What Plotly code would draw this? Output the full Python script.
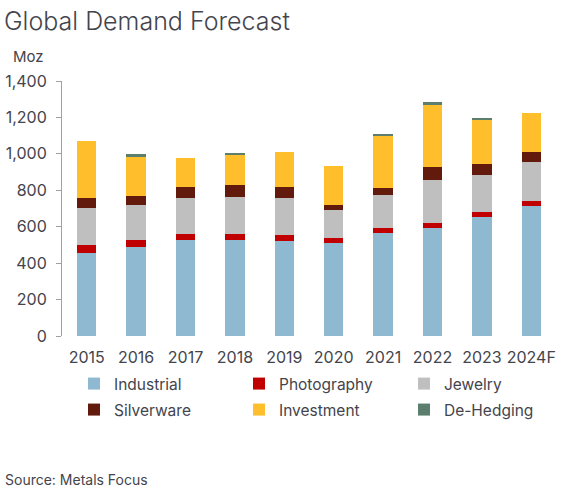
import plotly.graph_objects as go

years = ["2015", "2016", "2017", "2018", "2019", "2020", "2021", "2022", "2023", "2024F"]
industrial = [458, 491, 526, 526, 522, 509, 564, 592, 656, 714]
photography = [40, 35, 34, 33, 33, 30, 28, 27, 27, 26]
jewelry = [204, 192, 200, 205, 205, 154, 183, 235, 203, 213]
silverware = [58, 51, 57, 64, 59, 28, 38, 73, 57, 58]
investment = [312, 215, 159, 167, 190, 211, 288, 341, 247, 213]
dehedging = [0, 13, 0, 9, 0, 0, 3, 14, 9, 0]

series_names = ["Industrial", "Photography", "Jewelry", "Silverware", "Investment", "De-Hedging"]
series_values = [industrial, photography, jewelry, silverware, investment, dehedging]
series_colors = ["#8FB9D1", "#C00000", "#BFBFBF", "#611A0C", "#FFBE2B", "#5B7E6D"]
y_ticks = [0, 200, 400, 600, 800, 1000, 1200, 1400]

FONT = "Inter"
TXT = "#44444C"

W, H = 564, 493
ML, MR, MT, MB = 62, 8, 81, 157
PW, PH = W - ML - MR, H - MT - MB


def px_x(x):
    return (x - ML) / PW


def px_y(y):
    return (H - MB - y) / PH


fig = go.Figure()
for i, (name, vals, col) in enumerate(zip(series_names, series_values, series_colors)):
    fig.add_trace(go.Bar(
        x=years, y=vals, name=name, marker=dict(color=col, line=dict(width=0)),
        legend="legend" if i < 3 else "legend2",
    ))

legend_common = dict(
    orientation="h", xref="paper", yref="paper", xanchor="left", yanchor="middle",
    font=dict(family=FONT, size=15.5, color=TXT), entrywidth=128, entrywidthmode="pixels",
    traceorder="normal", bgcolor="rgba(0,0,0,0)", itemclick=False, indentation=-8,
)

fig.update_layout(
    width=W, height=H,
    margin=dict(l=ML, r=MR, t=MT, b=MB, autoexpand=False),
    paper_bgcolor="white", plot_bgcolor="white",
    barmode="stack", bargap=0.607,
    font=dict(family=FONT, color=TXT),
    xaxis=dict(showline=False, ticks="", showgrid=False, automargin=False, ticklabelstandoff=10,
               tickfont=dict(family=FONT, size=16, color=TXT)),
    yaxis=dict(range=[0, 1400], tickvals=y_ticks, tickformat=",", showgrid=False, zeroline=False,
               automargin=False, showline=True, linecolor="#A0A0A0", linewidth=1, ticks="outside",
               ticklen=5, tickcolor="#A0A0A0", ticklabelstandoff=6,
               tickfont=dict(family=FONT, size=16, color=TXT)),
    legend=dict(x=px_x(82), y=px_y(384), **legend_common),
    legend2=dict(x=px_x(82), y=px_y(410), **legend_common),
    showlegend=True,
    annotations=[
        dict(text="Global Demand Forecast", xref="paper", yref="paper", x=px_x(2), y=px_y(21),
             xanchor="left", yanchor="middle", showarrow=False,
             font=dict(family=FONT, size=25, color=TXT, weight=300)),
        dict(text="Moz", xref="paper", yref="paper", x=px_x(11), y=px_y(57), xanchor="left", yanchor="middle",
             showarrow=False, font=dict(family=FONT, size=15, color=TXT)),
        dict(text="Source: Metals Focus", xref="paper", yref="paper", x=px_x(3), y=px_y(479),
             xanchor="left", yanchor="middle", showarrow=False, font=dict(family=FONT, size=14, color=TXT)),
    ],
)

fig.write_html("out.html", config={"displayModeBar": False},
               post_script="document.body.style.margin='0px';")
